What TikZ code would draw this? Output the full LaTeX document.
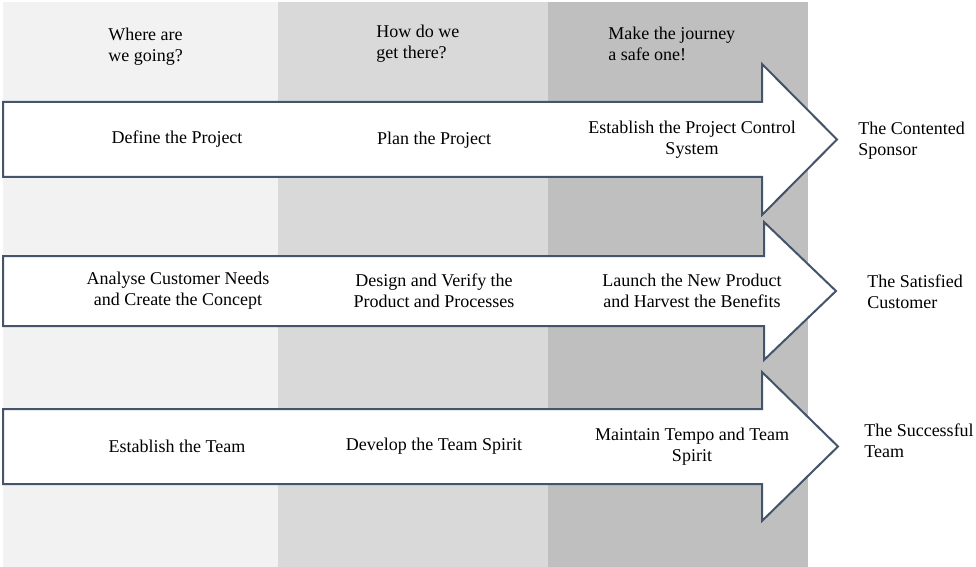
\documentclass[tikz,border=0pt]{standalone}
\usepackage{fontspec}
\setmainfont{Liberation Serif}
\definecolor{colA}{HTML}{F2F2F2}
\definecolor{colB}{HTML}{D9D9D9}
\definecolor{colC}{HTML}{BFBFBF}
\definecolor{edge}{HTML}{44546A}
\begin{document}
\begin{tikzpicture}[x=0.75pt,y=-0.75pt,
  lbl/.style={inner sep=0pt,align=center,font=\fontsize{13.5}{15.75}\selectfont},
  lbll/.style={inner sep=0pt,align=left,anchor=west,font=\fontsize{13.5}{15.75}\selectfont},
  bigarrow/.style={draw=edge,fill=white,line width=1.5pt,line join=miter}]
\useasboundingbox (0,0) rectangle (976,567);
% columns
\fill[colA] (3,2) rectangle (278,567);
\fill[colB] (278,2) rectangle (548,567);
\fill[colC] (548,2) rectangle (808,567);
% headers
\node[lbll] (h1) at (108,46.5) {Where are\\we going?};
\node[lbll] (h2) at (376,44) {How do we\\get there?};
\node[lbll] (h3) at (608,44) {Make the journey\\a safe one!};
% arrows
\draw[bigarrow] (3,102) -- (762,102) -- (762,64) -- (837,139.5) -- (762,215) -- (762,177) -- (3,177) -- cycle;
\draw[bigarrow] (3,256) -- (764,256) -- (764,222) -- (836,291) -- (764,360) -- (764,326) -- (3,326) -- cycle;
\draw[bigarrow] (3,409) -- (762,409) -- (762,372) -- (838,446.5) -- (762,521) -- (762,484) -- (3,484) -- cycle;
% row 1
\node[lbl] (a1) at (177,139.5) {Define the Project};
\node[lbl] (a2) at (434,140) {Plan the Project};
\node[lbl] (a3) at (692,139.5) {Establish the Project Control\\System};
\node[lbll] (a4) at (858,140.5) {The Contented\\Sponsor};
% row 2
\node[lbl] (b1) at (178,291) {Analyse Customer Needs\\and Create the Concept};
\node[lbl] (b2) at (434,291) {Design and Verify the\\Product and Processes};
\node[lbl] (b3) at (692,291) {Launch the New Product\\and Harvest the Benefits};
\node[lbll] (b4) at (867,291.5) {The Satisfied\\Customer};
% row 3
\node[lbl] (c1) at (177,446) {Establish the Team};
\node[lbl] (c2) at (434,446) {Develop the Team Spirit};
\node[lbl] (c3) at (692,447) {Maintain Tempo and Team\\Spirit};
\node[lbll] (c4) at (864,441) {The Successful\\Team};
\end{tikzpicture}
\end{document}
